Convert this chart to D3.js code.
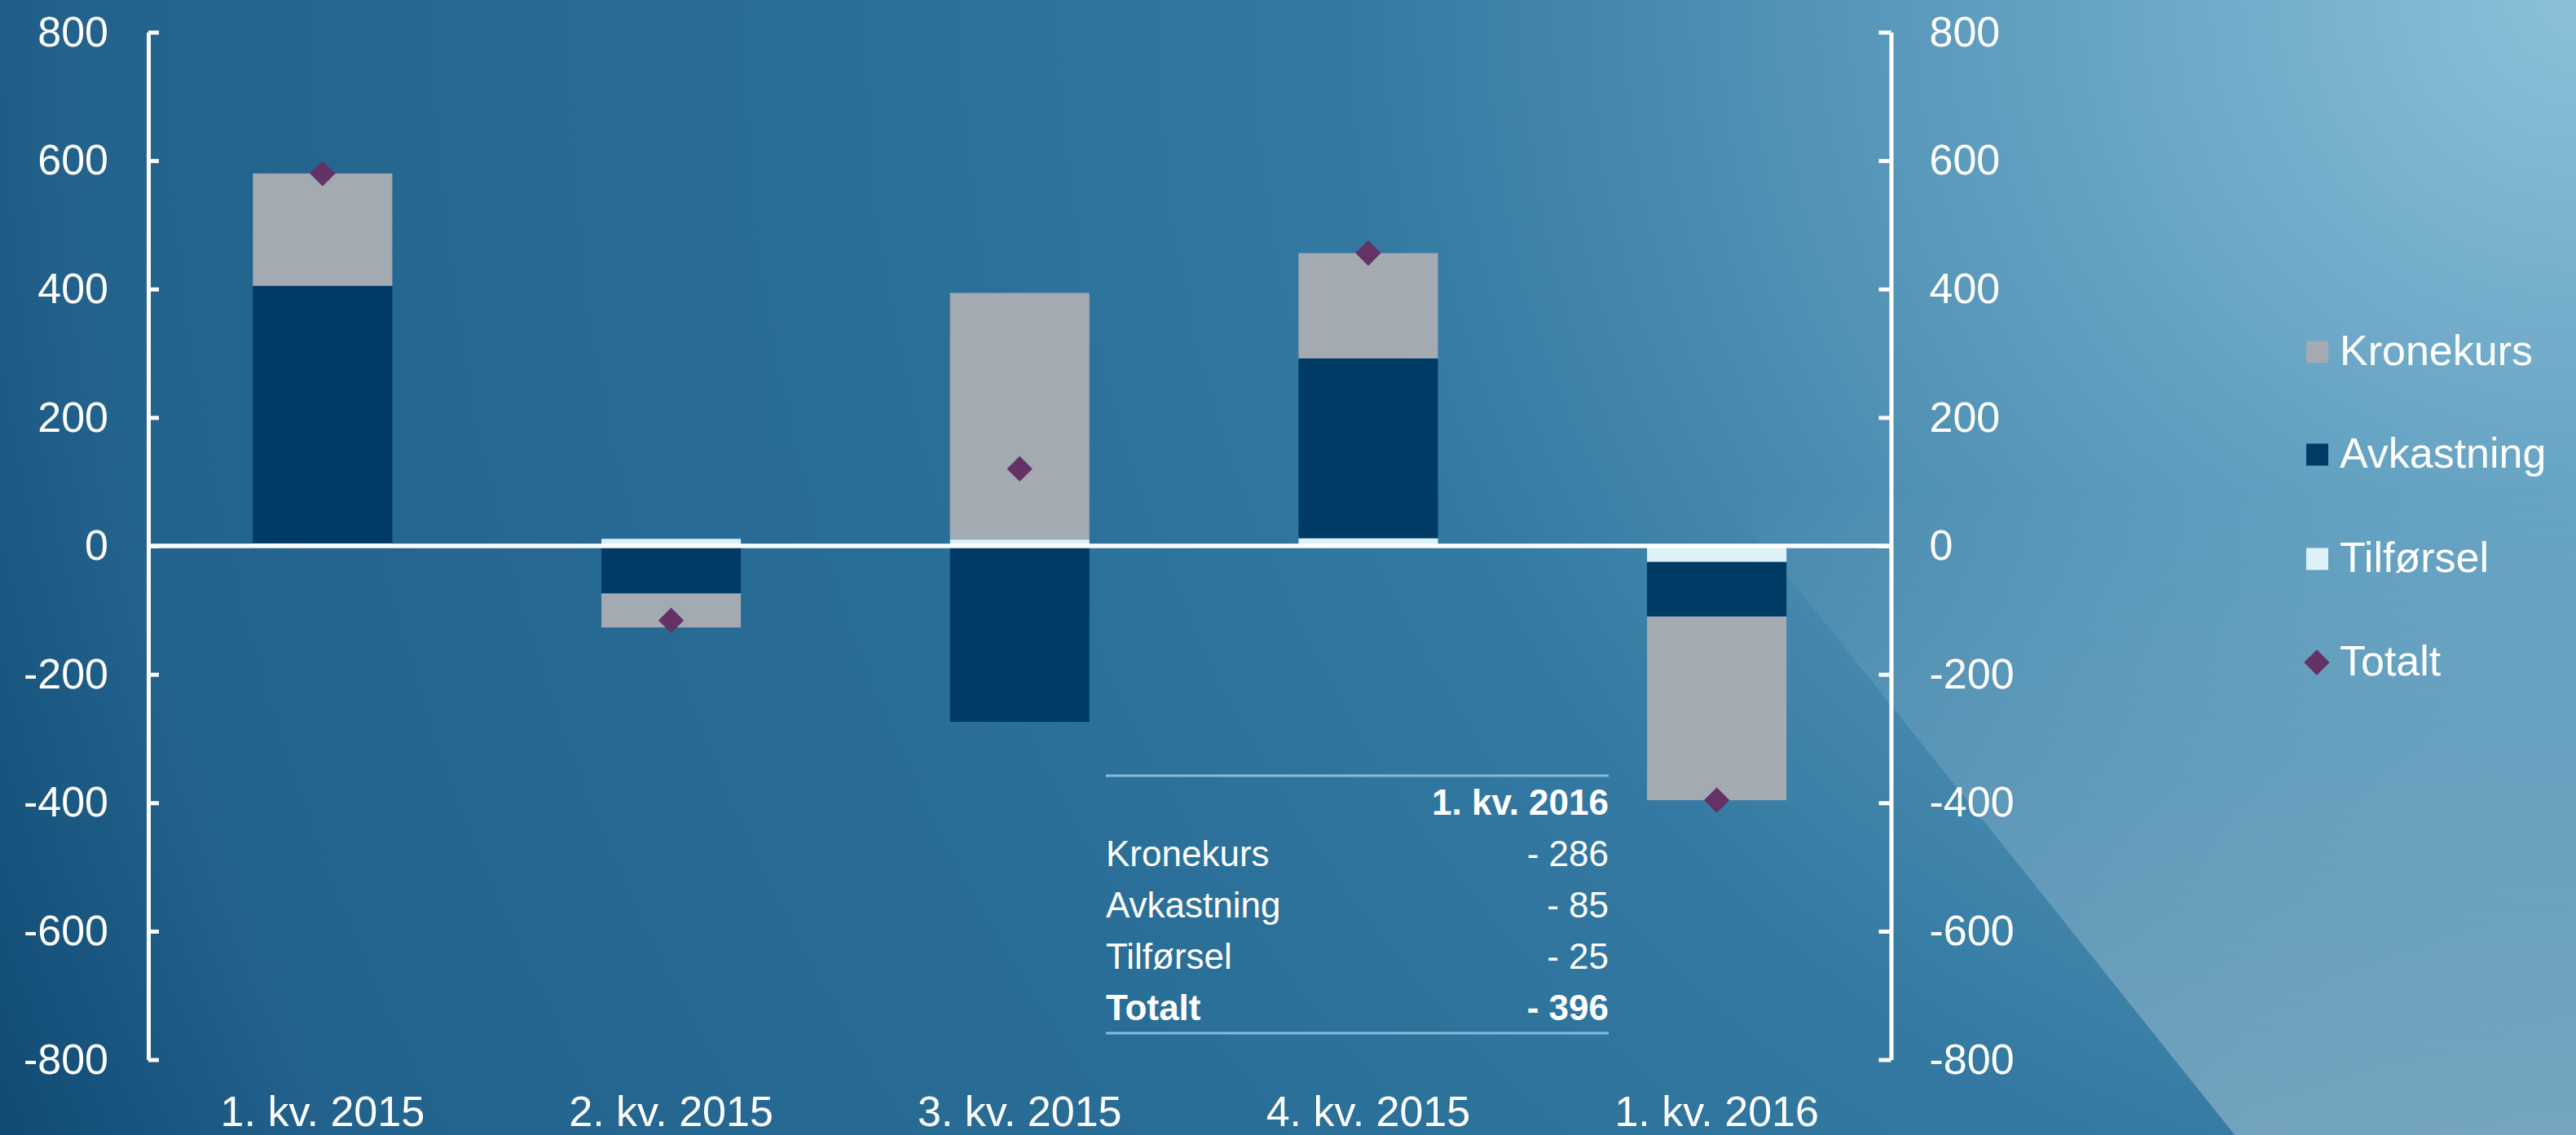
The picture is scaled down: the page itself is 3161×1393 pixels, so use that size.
<!DOCTYPE html>
<html>
<head>
<meta charset="utf-8">
<script src="https://cdn.jsdelivr.net/npm/d3@7"></script>
<style>
  body { margin: 0; background: #0e4770; }
  svg { display: block; font-family: "Liberation Sans", Arial, sans-serif; }
</style>
</head>
<body>
<div id="canvas"></div>
<script>
// data
const categories = ['1. kv. 2015', '2. kv. 2015', '3. kv. 2015', '4. kv. 2015', '1. kv. 2016'];
const kronekurs = [175, -53, 384, 164, -286];
const avkastning = [401, -74, -274, 280, -85];
const tilforsel = [4, 11, 10, 12, -25];
const totalt = [580, -116, 120, 456, -396];
const yTicks = [-800, -600, -400, -200, 0, 200, 400, 600, 800];
const legendNames = ['Kronekurs', 'Avkastning', 'Tilførsel', 'Totalt'];
const tableTitle = '1. kv. 2016';

const width = 3161;
const height = 1393;

const colors = {
  'Kronekurs': '#a4aab1',
  'Avkastning': '#003b66',
  'Tilførsel': '#dff1f8',
  'Totalt': '#643264'
};

const rows = categories.map((c, i) => ({
  cat: c,
  'Kronekurs': kronekurs[i],
  'Avkastning': avkastning[i],
  'Tilførsel': tilforsel[i]
}));

const svg = d3.select('#canvas')
  .append('svg')
  .attr('width', width)
  .attr('height', height);

// background
const defs = svg.append('defs');
const bg = defs.append('radialGradient')
  .attr('id', 'bg')
  .attr('gradientUnits', 'userSpaceOnUse')
  .attr('cx', width).attr('cy', 0).attr('r', 3500);
[[0, '#8cc0da'], [0.22, '#5d9cbd'], [0.43, '#3379a1'], [0.6, '#2a6f98'],
 [0.88, '#22628c'], [1, '#0e4770']].forEach(s => {
  bg.append('stop').attr('offset', s[0]).attr('stop-color', s[1]);
});
const glow = defs.append('linearGradient')
  .attr('id', 'glow')
  .attr('gradientUnits', 'userSpaceOnUse')
  .attr('x1', 0).attr('y1', 600).attr('x2', 0).attr('y2', height);
glow.append('stop').attr('offset', 0).attr('stop-color', '#fff').attr('stop-opacity', 0);
glow.append('stop').attr('offset', 1).attr('stop-color', '#fff').attr('stop-opacity', 0.3);

svg.append('rect').attr('width', width).attr('height', height).attr('fill', 'url(#bg)');
const edge = yy => 2108 + 0.8 * (yy - 600);
svg.append('path')
  .attr('d', `M${edge(600)},600L${edge(height)},${height}L${width},${height}L${width},600Z`)
  .attr('fill', 'url(#glow)');

const x = d3.scaleBand()
  .domain(categories)
  .range([182, 2320.5])
  .paddingInner(0.6)
  .paddingOuter(0.3);

const y = d3.scaleLinear()
  .domain([-800, 800])
  .range([1300.5, 39.5]);

const stack = d3.stack()
  .keys(['Tilførsel', 'Avkastning', 'Kronekurs'])
  .offset(d3.stackOffsetDiverging);

svg.append('g')
  .selectAll('g')
  .data(stack(rows))
  .join('g')
  .attr('fill', d => colors[d.key])
  .selectAll('rect')
  .data(d => d)
  .join('rect')
  .attr('x', d => x(d.data.cat))
  .attr('y', d => y(Math.max(d[0], d[1])))
  .attr('width', x.bandwidth())
  .attr('height', d => Math.abs(y(d[0]) - y(d[1])));

// axes
const tickFmt = d => String(d);
const leftAxis = svg.append('g')
  .attr('transform', 'translate(182,0)')
  .call(d3.axisLeft(y).tickValues(yTicks).tickFormat(tickFmt)
    .tickSizeInner(-13).tickSizeOuter(0).tickPadding(49));

const rightAxis = svg.append('g')
  .attr('transform', 'translate(2320.5,0)')
  .call(d3.axisRight(y).tickValues(yTicks).tickFormat(tickFmt)
    .tickSizeInner(-15).tickSizeOuter(0).tickPadding(47));

[leftAxis, rightAxis].forEach(g => {
  g.attr('font-family', null).attr('font-size', null);
  g.select('.domain').attr('stroke', '#fff').attr('stroke-width', 5);
  g.selectAll('.tick line').attr('stroke', '#fff').attr('stroke-width', 5);
  g.selectAll('.tick text').attr('fill', '#fff').style('font-size', '52px');
});

svg.append('line')
  .attr('x1', 182).attr('x2', 2320.5)
  .attr('y1', y(0)).attr('y2', y(0))
  .attr('stroke', '#fff')
  .attr('stroke-width', 5.5);

// totals
svg.append('g')
  .selectAll('path')
  .data(totalt)
  .join('path')
  .attr('d', d3.symbol(d3.symbolSquare, 490))
  .attr('transform', (d, i) => `translate(${x(categories[i]) + x.bandwidth() / 2},${y(d)}) rotate(45)`)
  .attr('fill', colors['Totalt']);

// category labels
svg.append('g')
  .selectAll('text')
  .data(categories)
  .join('text')
  .attr('x', d => x(d) + x.bandwidth() / 2)
  .attr('y', 1382)
  .attr('text-anchor', 'middle')
  .attr('fill', '#fff')
  .style('font-size', '52px')
  .text(d => d);

// table for latest quarter
const last = categories.length - 1;
const fmt = v => v < 0 ? '- ' + Math.abs(v) : String(v);
const tableRows = [
  ['Kronekurs', kronekurs[last]],
  ['Avkastning', avkastning[last]],
  ['Tilførsel', tilforsel[last]],
  ['Totalt', totalt[last]]
];
const table = svg.append('g').attr('fill', '#fff').style('font-size', '44px');
[952, 1268].forEach(ly => {
  table.append('line')
    .attr('x1', 1357).attr('x2', 1974)
    .attr('y1', ly).attr('y2', ly)
    .attr('stroke', '#86bddb')
    .attr('stroke-width', 3);
});
table.append('text')
  .attr('x', 1974).attr('y', 1000)
  .attr('text-anchor', 'end')
  .attr('font-weight', 'bold')
  .text(tableTitle);
const rowY = [1063, 1126, 1189, 1252];
tableRows.forEach((r, i) => {
  const bold = i === tableRows.length - 1 ? 'bold' : null;
  table.append('text').attr('x', 1357).attr('y', rowY[i]).attr('font-weight', bold).text(r[0]);
  table.append('text').attr('x', 1974).attr('y', rowY[i]).attr('text-anchor', 'end')
    .attr('font-weight', bold).text(fmt(r[1]));
});

// legend
const legendY = [432, 558, 686, 813];
const legend = svg.append('g');
legendNames.forEach((name, i) => {
  if (name === 'Totalt') {
    legend.append('path')
      .attr('d', d3.symbol(d3.symbolSquare, 490))
      .attr('transform', `translate(2843,${legendY[i]}) rotate(45)`)
      .attr('fill', colors[name]);
  } else {
    legend.append('rect')
      .attr('x', 2830).attr('y', legendY[i] - 13.5)
      .attr('width', 27).attr('height', 27)
      .attr('fill', colors[name]);
  }
  legend.append('text')
    .attr('x', 2871).attr('y', legendY[i] + 16)
    .attr('fill', '#fff')
    .style('font-size', '52px')
    .text(name);
});
</script>
</body>
</html>
